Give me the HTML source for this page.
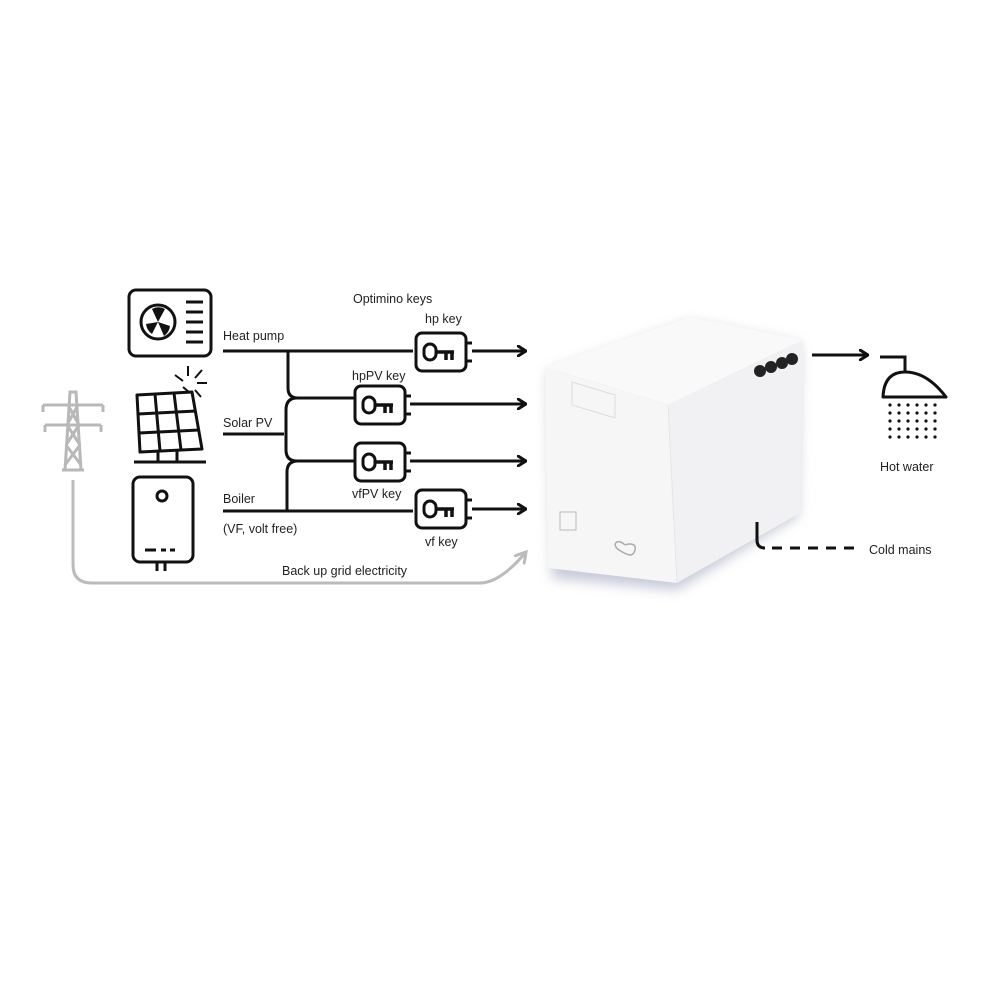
<!DOCTYPE html>
<html><head><style>
html,body{margin:0;padding:0;background:#fff;}
svg{display:block;}
text{font-family:"Liberation Sans",sans-serif;font-size:12.5px;fill:#222;}
</style></head><body>
<svg width="1000" height="1000" viewBox="0 0 1000 1000">
<defs>
<filter id="sh" x="-20%" y="-20%" width="140%" height="140%"><feGaussianBlur stdDeviation="6"/></filter>
<marker id="ar" markerWidth="10" markerHeight="12" refX="9" refY="6" orient="auto" markerUnits="userSpaceOnUse">
<path d="M1,1 L9,6 L1,11" fill="none" stroke="#111" stroke-width="3" stroke-linecap="round" stroke-linejoin="round"/></marker>
<marker id="ag" markerWidth="14" markerHeight="14" refX="11" refY="7" orient="auto" markerUnits="userSpaceOnUse">
<path d="M1,1 L11,7 L1,13" fill="none" stroke="#bbb" stroke-width="3" stroke-linecap="round"/></marker>
<g id="key">
<rect x="0" y="0" width="50" height="38" rx="6" fill="#fff" stroke="#111" stroke-width="3"/>
<rect x="8" y="11" width="12" height="16" rx="6" fill="none" stroke="#111" stroke-width="3"/>
<path d="M20,19 H38 M30,19 V27 M36,19 V27" stroke="#111" stroke-width="3.5" fill="none"/>
<path d="M50,10 H56 M50,28 H56" stroke="#111" stroke-width="3"/>
</g>
</defs>

<!-- heat pump -->
<rect x="129" y="290" width="82" height="66" rx="7" fill="none" stroke="#111" stroke-width="3"/>
<circle cx="158" cy="322" r="17" fill="none" stroke="#111" stroke-width="3"/>
<path d="M158,322 L152,309 A14,14 0 0 1 165,309 Z M158,322 L170,326 A14,14 0 0 1 164,336 Z M158,322 L152,334 A14,14 0 0 1 146,324 Z" fill="#111"/>
<path d="M186,302 H203 M186,312 H203 M186,322 H203 M186,332 H203 M186,342 H203" stroke="#111" stroke-width="3"/>

<!-- solar -->
<path d="M137,395 L192,392 L202,449 L140,452 Z" fill="none" stroke="#111" stroke-width="3" stroke-linejoin="round"/>
<path d="M155,394 L160,451 M174,393 L181,450 M138,414 L196,411 M139,433 L199,430" stroke="#111" stroke-width="3"/>
<path d="M158,451 V461 M177,450 V461 M134,462 H206" stroke="#111" stroke-width="3"/>
<path d="M188,366 V376 M175,375 L183,381 M202,370 L195,378 M197,383 H207 M195,390 L201,397 M183,387 L190,393" stroke="#111" stroke-width="2"/>

<!-- boiler -->
<rect x="133" y="477" width="60" height="85" rx="7" fill="none" stroke="#111" stroke-width="3"/>
<circle cx="162" cy="496" r="5" fill="none" stroke="#111" stroke-width="3"/>
<path d="M145,550 H156 M161,550 H166 M170,550 H175" stroke="#111" stroke-width="3"/>
<path d="M157,562 V571 M165,562 V571" stroke="#111" stroke-width="3"/>

<!-- pylon -->
<g stroke="#b8b8b8" stroke-width="3" fill="none">
<path d="M65,470 L70,392 H76 L81,470"/>
<path d="M43,405 H103 M45,425 H101 M43,405 V412 M103,405 V412 M45,425 V432 M101,425 V432"/>
<path d="M68,405 L79,425 M78,405 L67,425 M67,425 L80,445 M79,425 L66,445 M66,445 L81,465 M80,445 L65,465"/>
<path d="M62,470 H84"/>
</g>
<path d="M73,480 V565 Q73,583 92,583 H480 Q500,583 526,552" fill="none" stroke="#bbb" stroke-width="3" marker-end="url(#ag)"/>

<!-- lines -->
<g stroke="#111" stroke-width="3" fill="none">
<path d="M223,351 H413"/>
<path d="M288,351 V388 Q288,398 298,398 H355"/>
<path d="M223,434 H284"/>
<path d="M297,398 Q286,398 286,410 V450 Q286,461 297,461 H355"/>
<path d="M223,511 H413"/>
<path d="M287,511 V472 Q287,461 298,461"/>
<path d="M472,351 H526" marker-end="url(#ar)"/>
<path d="M410,404 H526" marker-end="url(#ar)"/>
<path d="M410,461 H526" marker-end="url(#ar)"/>
<path d="M472,509 H526" marker-end="url(#ar)"/>
</g>
<use href="#key" x="416" y="333"/>
<use href="#key" x="355" y="386"/>
<use href="#key" x="355" y="443"/>
<use href="#key" x="416" y="490"/>

<text x="353" y="303">Optimino keys</text>
<text x="425" y="323">hp key</text>
<text x="223" y="340">Heat pump</text>
<text x="352" y="380">hpPV key</text>
<text x="223" y="427">Solar PV</text>
<text x="352" y="498">vfPV key</text>
<text x="223" y="503">Boiler</text>
<text x="223" y="533">(VF, volt free)</text>
<text x="425" y="546">vf key</text>
<text x="282" y="575">Back up grid electricity</text>

<!-- unit -->
<path d="M548,372 L690,322 L800,344 L798,516 L677,590 L552,578 Z" fill="#b8bccf" filter="url(#sh)" opacity="0.8"/>
<path d="M545,367 L690,317 L803,340 L668,405 Z" fill="#f9f9f9"/>
<path d="M545,367 L668,405 L677,583 L548,568 Z" fill="#f6f6f7"/>
<path d="M668,405 L803,340 L800,513 L677,583 Z" fill="#f1f1f3"/>
<path d="M668,405 L677,583" stroke="#e6e6ea" stroke-width="1"/>
<path d="M572,382 L615,395 L615,418 L572,405 Z" fill="none" stroke="#ddd"/>
<rect x="560" y="512" width="16" height="18" fill="none" stroke="#bbb"/>
<path d="M625,545 c-8,-8 -14,0 -6,5 c8,5 14,8 16,0 c2,-8 -8,-6 -10,-5" fill="none" stroke="#aaa" stroke-width="1.5"/>
<circle cx="760" cy="371" r="6" fill="#222"/><circle cx="771" cy="367" r="6" fill="#222"/><circle cx="782" cy="363" r="6" fill="#222"/><circle cx="792" cy="359" r="6" fill="#222"/>

<!-- hot water -->
<path d="M812,355 H868" stroke="#111" stroke-width="3" fill="none" marker-end="url(#ar)"/>
<path d="M880,357 H905 V372" stroke="#111" stroke-width="3" fill="none"/>
<path d="M883,397 Q884,372 905,372 Q927,372 946,397 Z" fill="none" stroke="#111" stroke-width="3" stroke-linejoin="round"/>
<g fill="#111">
<circle cx="890" cy="405" r="1.6"/><circle cx="899" cy="405" r="1.6"/><circle cx="908" cy="405" r="1.6"/><circle cx="917" cy="405" r="1.6"/><circle cx="926" cy="405" r="1.6"/><circle cx="935" cy="405" r="1.6"/>
<circle cx="890" cy="413" r="1.6"/><circle cx="899" cy="413" r="1.6"/><circle cx="908" cy="413" r="1.6"/><circle cx="917" cy="413" r="1.6"/><circle cx="926" cy="413" r="1.6"/><circle cx="935" cy="413" r="1.6"/>
<circle cx="890" cy="421" r="1.6"/><circle cx="899" cy="421" r="1.6"/><circle cx="908" cy="421" r="1.6"/><circle cx="917" cy="421" r="1.6"/><circle cx="926" cy="421" r="1.6"/><circle cx="935" cy="421" r="1.6"/>
<circle cx="890" cy="429" r="1.6"/><circle cx="899" cy="429" r="1.6"/><circle cx="908" cy="429" r="1.6"/><circle cx="917" cy="429" r="1.6"/><circle cx="926" cy="429" r="1.6"/><circle cx="935" cy="429" r="1.6"/>
<circle cx="890" cy="437" r="1.6"/><circle cx="899" cy="437" r="1.6"/><circle cx="908" cy="437" r="1.6"/><circle cx="917" cy="437" r="1.6"/><circle cx="926" cy="437" r="1.6"/><circle cx="935" cy="437" r="1.6"/>
</g>
<text x="880" y="471">Hot water</text>

<!-- cold mains -->
<path d="M757,522 V540 Q757,548 765,548" stroke="#111" stroke-width="3" fill="none"/>
<path d="M772,548 H858" stroke="#111" stroke-width="3" stroke-dasharray="10,8" fill="none"/>
<text x="869" y="554">Cold mains</text>
</svg>
</body></html>
